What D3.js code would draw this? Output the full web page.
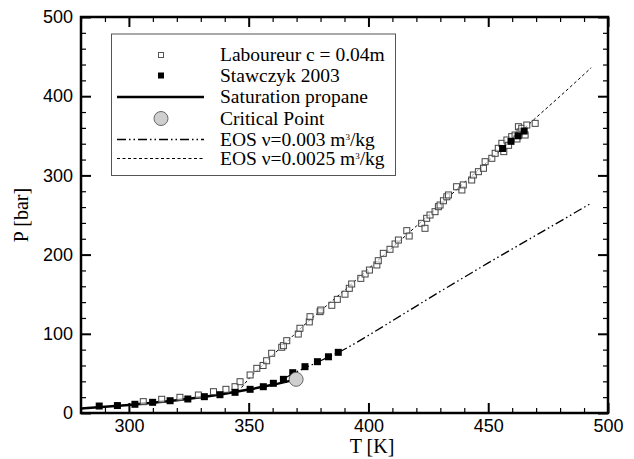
<!DOCTYPE html>
<html><head><meta charset="utf-8">
<script src="https://cdn.jsdelivr.net/npm/d3@7"></script>
<style>body{margin:0;background:#fff}svg{display:block}</style>
</head><body>
<script>
// ---- data ----
const xTicks = [300, 350, 400, 450, 500];
const yTicks = [0, 100, 200, 300, 400, 500];

const satT = [280, 290, 300, 310, 320, 330, 340, 350, 360, 369.8];
const satP = [5.8, 7.8, 10.2, 13.0, 16.2, 20.0, 24.4, 29.6, 35.6, 42.5];

const critT = 369.8, critP = 42.5;

const eos3T = [364, 370, 375, 380, 385, 390, 400, 410, 420, 430, 440, 450, 460, 470, 480, 493];
const eos3P = [42, 52, 59, 66, 73, 80.5, 98, 116.5, 135, 153.5, 171.5, 189.5, 207, 224.5, 242, 265];

const eos25T = [347, 350, 355, 360, 365, 370, 375, 380, 385, 390, 400, 410, 420, 430, 440, 450, 460, 470, 480, 493];
const eos25P = [32, 43, 58, 73, 87, 102, 116, 129, 142, 155, 182, 209, 236, 263, 291, 318, 345, 373, 400, 436];

const labT = [306, 313.7, 321.3, 329, 335.3, 340.5, 344.3, 346.4, 350.6, 353.4, 356, 357.5, 359.6, 363.8, 364.5, 365.9, 370.7, 371.4, 375.3, 375.6, 379.8, 380.1, 384.7, 387, 390.2, 392, 393, 396.8, 398.6, 400.4, 403.5, 404.1, 406.2, 409, 411.1, 412.5, 416, 417, 422.2, 423.6, 424.3, 425.7, 427.8, 429.2, 429.9, 431.3, 432.7, 433.4, 436.8, 439, 439.6, 443.1, 443.8, 445.9, 448, 448.7, 451.5, 452.9, 454.2, 455.7, 457.8, 459.8, 461.2, 462.6, 463.3, 464, 465.4, 466.1, 469.6, 458.5, 462, 456.5];
const labP = [14.3, 17.3, 19.8, 22.7, 26.9, 29.9, 33.2, 39.5, 48, 56.4, 60, 66, 75.4, 83, 85, 91.3, 99.7, 107, 115, 121.6, 128, 130, 136, 143.5, 150, 157.4, 162.9, 170, 175.5, 180.5, 186.9, 192.3, 201.6, 206.7, 213.4, 218.4, 230.2, 223.5, 239.5, 233.2, 245.8, 250, 254.2, 260.5, 262.6, 268, 273, 275.3, 285.7, 281.6, 288, 294.2, 300.5, 304.7, 309, 317.3, 321.6, 327.9, 334.2, 340.5, 344.7, 348.9, 351, 361.5, 355, 359.5, 351, 363.6, 365.7, 338, 346, 330];

const stwT = [287.6, 295.2, 302.5, 309.9, 317.2, 324.6, 331.5, 338, 344.3, 350.6, 356.1, 360.3, 364.5, 368.4, 373.5, 378.7, 383.3, 387.4, 456, 459.5, 462.5, 465];
const stwP = [8.8, 9.4, 11, 13.5, 15.5, 17.7, 20.6, 23.1, 26.1, 29.9, 33.2, 37.5, 42.5, 50.9, 58.5, 64.8, 71, 76.6, 334, 343, 350, 356];

const legendLabels = ["Laboureur c = 0.04m", "Stawczyk 2003", "Saturation propane", "Critical Point", "EOS \u03BD=0.003 m", "EOS \u03BD=0.0025 m"];

// ---- drawing ----
const W = 634, H = 459;
const svg = d3.select("body").append("svg").attr("width", W).attr("height", H);
svg.append("rect").attr("width", W).attr("height", H).attr("fill", "#fff");

const x = d3.scaleLinear([280, 500], [81, 608]);
const y = d3.scaleLinear([0, 500], [413, 17]);

const zip = (a, b) => a.map((v, i) => [v, b[i]]);
const line = d3.line().x(d => x(d[0])).y(d => y(d[1])).curve(d3.curveMonotoneX);

const plot = svg.append("g");
plot.append("path").datum(zip(eos25T, eos25P)).attr("d", line)
  .attr("fill", "none").attr("stroke", "#000").attr("stroke-width", 1).attr("stroke-dasharray", "3,2.5");
plot.append("path").datum(zip(eos3T, eos3P)).attr("d", line)
  .attr("fill", "none").attr("stroke", "#000").attr("stroke-width", 1.3).attr("stroke-dasharray", "9,3,1.5,3,1.5,3");
plot.append("path").datum(zip(satT, satP)).attr("d", line)
  .attr("fill", "none").attr("stroke", "#000").attr("stroke-width", 2.5);

const ls = 6;
plot.selectAll("rect.lab").data(zip(labT, labP)).join("rect").attr("class", "lab")
  .attr("x", d => x(d[0]) - ls / 2).attr("y", d => y(d[1]) - ls / 2)
  .attr("width", ls).attr("height", ls)
  .attr("fill", "#fff").attr("fill-opacity", 0.6).attr("stroke", "#444").attr("stroke-width", 1);

const ss = 7;
plot.selectAll("rect.stw").data(zip(stwT, stwP)).join("rect").attr("class", "stw")
  .attr("x", d => x(d[0]) - ss / 2).attr("y", d => y(d[1]) - ss / 2)
  .attr("width", ss).attr("height", ss).attr("fill", "#000");

plot.append("circle").attr("cx", x(critT)).attr("cy", y(critP)).attr("r", 7)
  .attr("fill", "#cfcfcf").attr("stroke", "#666").attr("stroke-width", 1);

// axes
const xMinor = d3.range(280, 501, 10).filter(v => v % 50 !== 0);
const yMinor = d3.range(0, 501, 20).filter(v => v % 100 !== 0);
const font = "'Liberation Sans', Arial, sans-serif";

function styleAxis(g, sw) {
  g.select(".domain").remove();
  g.selectAll(".tick line").attr("stroke", "#000").attr("stroke-width", sw);
  g.selectAll("text").attr("font-family", font).attr("font-size", 18).attr("fill", "#000");
}
const ax = svg.append("g");
ax.append("g").attr("transform", "translate(0,413)")
  .call(d3.axisBottom(x).tickValues(xTicks).tickSize(-10).tickPadding(6).tickFormat(d3.format("d")))
  .call(g => styleAxis(g, 2));
ax.append("g").attr("transform", "translate(0,413)")
  .call(d3.axisBottom(x).tickValues(xMinor).tickSize(-5).tickFormat(""))
  .call(g => styleAxis(g, 1.2));
ax.append("g").attr("transform", "translate(0,17)")
  .call(d3.axisTop(x).tickValues(xTicks).tickSize(-10).tickFormat(""))
  .call(g => styleAxis(g, 2));
ax.append("g").attr("transform", "translate(0,17)")
  .call(d3.axisTop(x).tickValues(xMinor).tickSize(-5).tickFormat(""))
  .call(g => styleAxis(g, 1.2));
ax.append("g").attr("transform", "translate(81,0)")
  .call(d3.axisLeft(y).tickValues(yTicks).tickSize(-10).tickPadding(8).tickFormat(d3.format("d")))
  .call(g => styleAxis(g, 2));
ax.append("g").attr("transform", "translate(81,0)")
  .call(d3.axisLeft(y).tickValues(yMinor).tickSize(-5).tickFormat(""))
  .call(g => styleAxis(g, 1.2));
ax.append("g").attr("transform", "translate(608,0)")
  .call(d3.axisRight(y).tickValues(yTicks).tickSize(-10).tickFormat(""))
  .call(g => styleAxis(g, 2));
ax.append("g").attr("transform", "translate(608,0)")
  .call(d3.axisRight(y).tickValues(yMinor).tickSize(-5).tickFormat(""))
  .call(g => styleAxis(g, 1.2));
ax.append("rect").attr("x", 81).attr("y", 17).attr("width", 527).attr("height", 396)
  .attr("fill", "none").attr("stroke", "#000").attr("stroke-width", 2.5);

const serif = "'Liberation Serif', 'Times New Roman', serif";
svg.append("text").attr("x", 372).attr("y", 453).attr("text-anchor", "middle")
  .attr("font-family", serif).attr("font-size", 20).text("T [K]");
svg.append("text").attr("transform", "translate(28,215) rotate(-90)").attr("text-anchor", "middle")
  .attr("font-family", serif).attr("font-size", 20).text("P [bar]");

// legend
const leg = svg.append("g");
leg.append("rect").attr("x", 111.5).attr("y", 34).attr("width", 284).attr("height", 141.5)
  .attr("fill", "#fff").attr("stroke", "#555").attr("stroke-width", 1);
const rowY = [55, 75.5, 97, 118.5, 139.5, 158.5];
const symX = 161, l0 = 117, l1 = 204;
leg.append("rect").attr("x", symX - 2.5).attr("y", rowY[0] - 2.5).attr("width", 5).attr("height", 5)
  .attr("fill", "#fff").attr("stroke", "#555");
leg.append("rect").attr("x", symX - 3).attr("y", rowY[1] - 3).attr("width", 6).attr("height", 6).attr("fill", "#000");
leg.append("line").attr("x1", l0).attr("x2", l1).attr("y1", rowY[2]).attr("y2", rowY[2])
  .attr("stroke", "#000").attr("stroke-width", 2.5);
leg.append("circle").attr("cx", symX).attr("cy", rowY[3]).attr("r", 7)
  .attr("fill", "#cfcfcf").attr("stroke", "#666");
leg.append("line").attr("x1", l0).attr("x2", l1).attr("y1", rowY[4]).attr("y2", rowY[4])
  .attr("stroke", "#000").attr("stroke-width", 1.3).attr("stroke-dasharray", "9,3,1.5,3,1.5,3");
leg.append("line").attr("x1", l0).attr("x2", l1).attr("y1", rowY[5]).attr("y2", rowY[5])
  .attr("stroke", "#000").attr("stroke-width", 1).attr("stroke-dasharray", "3,2.5");
legendLabels.forEach((t, i) => {
  const tx = leg.append("text").attr("x", 220).attr("y", rowY[i] + 6)
    .attr("font-family", serif).attr("font-size", 19.5).attr("fill", "#000").text(t);
  if (i >= 4) {
    tx.append("tspan").attr("dy", -6).attr("font-size", 9).text("3");
    tx.append("tspan").attr("dy", 6).text("/kg");
  }
});
</script>
</body></html>
